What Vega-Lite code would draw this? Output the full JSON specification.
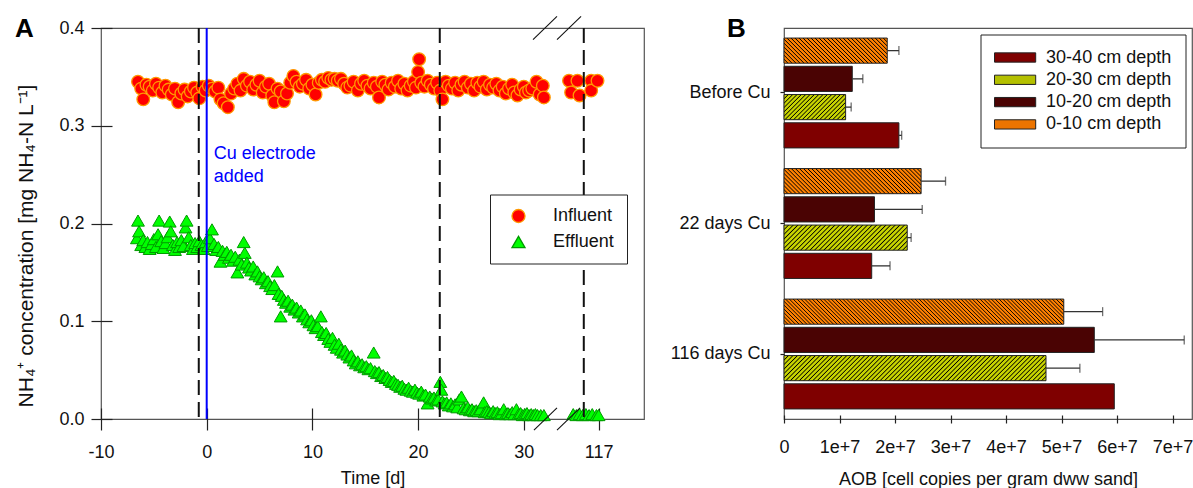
{
  "$schema": "https://vega.github.io/schema/vega-lite/v6.json",
  "background": "white",
  "padding": {"left": 14, "top": 15, "right": 0, "bottom": 0},
  "spacing": 140,
  "bounds": "flush",
  "resolve": {"scale": {"fill": "independent", "stroke": "independent", "shape": "independent"}, "legend": {"fill": "independent", "stroke": "independent", "shape": "independent"}},
  "datasets": {
    "influent": [
      {"day": -6.5, "value": 0.345}, {"day": -6.2, "value": 0.338}, {"day": -6.0, "value": 0.327}, {"day": -5.7, "value": 0.342},
      {"day": -5.4, "value": 0.340}, {"day": -5.1, "value": 0.336}, {"day": -4.8, "value": 0.343}, {"day": -4.5, "value": 0.339},
      {"day": -4.2, "value": 0.334}, {"day": -3.9, "value": 0.341}, {"day": -3.6, "value": 0.337}, {"day": -3.3, "value": 0.332},
      {"day": -3.0, "value": 0.338}, {"day": -2.7, "value": 0.324}, {"day": -2.4, "value": 0.333}, {"day": -2.1, "value": 0.337},
      {"day": -1.8, "value": 0.330}, {"day": -1.5, "value": 0.335}, {"day": -1.2, "value": 0.339}, {"day": -0.9, "value": 0.334},
      {"day": -0.7, "value": 0.328}, {"day": -0.4, "value": 0.340}, {"day": -0.1, "value": 0.336}, {"day": 0.2, "value": 0.341},
      {"day": 0.5, "value": 0.338}, {"day": 0.8, "value": 0.335}, {"day": 1.1, "value": 0.339}, {"day": 1.3, "value": 0.327},
      {"day": 1.6, "value": 0.323}, {"day": 2.0, "value": 0.319}, {"day": 2.3, "value": 0.333}, {"day": 2.6, "value": 0.338},
      {"day": 2.9, "value": 0.343}, {"day": 3.2, "value": 0.336}, {"day": 3.5, "value": 0.348}, {"day": 3.8, "value": 0.341},
      {"day": 4.1, "value": 0.345}, {"day": 4.4, "value": 0.337}, {"day": 4.7, "value": 0.342}, {"day": 5.0, "value": 0.346},
      {"day": 5.3, "value": 0.334}, {"day": 5.6, "value": 0.340}, {"day": 5.9, "value": 0.343}, {"day": 6.2, "value": 0.331},
      {"day": 6.4, "value": 0.324}, {"day": 6.7, "value": 0.338}, {"day": 7.0, "value": 0.335}, {"day": 7.3, "value": 0.325},
      {"day": 7.6, "value": 0.333}, {"day": 7.9, "value": 0.344}, {"day": 8.2, "value": 0.351}, {"day": 8.5, "value": 0.345},
      {"day": 8.8, "value": 0.340}, {"day": 9.1, "value": 0.343}, {"day": 9.4, "value": 0.347}, {"day": 9.7, "value": 0.338},
      {"day": 10.0, "value": 0.342}, {"day": 10.3, "value": 0.332}, {"day": 10.6, "value": 0.344}, {"day": 10.9, "value": 0.347},
      {"day": 11.2, "value": 0.345}, {"day": 11.5, "value": 0.349}, {"day": 11.8, "value": 0.347}, {"day": 12.1, "value": 0.348},
      {"day": 12.4, "value": 0.346}, {"day": 12.7, "value": 0.348}, {"day": 13.0, "value": 0.343}, {"day": 13.3, "value": 0.339},
      {"day": 13.6, "value": 0.341}, {"day": 13.9, "value": 0.345}, {"day": 14.3, "value": 0.336}, {"day": 14.6, "value": 0.343},
      {"day": 14.9, "value": 0.346}, {"day": 15.2, "value": 0.341}, {"day": 15.5, "value": 0.338}, {"day": 15.8, "value": 0.344},
      {"day": 16.1, "value": 0.340}, {"day": 16.3, "value": 0.329}, {"day": 16.6, "value": 0.345}, {"day": 16.9, "value": 0.342},
      {"day": 17.2, "value": 0.337}, {"day": 17.5, "value": 0.344}, {"day": 17.8, "value": 0.340}, {"day": 18.1, "value": 0.346},
      {"day": 18.4, "value": 0.338}, {"day": 18.7, "value": 0.343}, {"day": 19.0, "value": 0.336}, {"day": 19.3, "value": 0.341},
      {"day": 19.6, "value": 0.345}, {"day": 19.8, "value": 0.339}, {"day": 20.0, "value": 0.355}, {"day": 20.1, "value": 0.368},
      {"day": 20.3, "value": 0.344}, {"day": 20.6, "value": 0.340}, {"day": 20.9, "value": 0.346}, {"day": 21.2, "value": 0.342},
      {"day": 21.5, "value": 0.338}, {"day": 21.8, "value": 0.344}, {"day": 22.1, "value": 0.336}, {"day": 22.3, "value": 0.327},
      {"day": 22.6, "value": 0.345}, {"day": 22.9, "value": 0.341}, {"day": 23.2, "value": 0.338}, {"day": 23.5, "value": 0.344},
      {"day": 23.8, "value": 0.336}, {"day": 24.1, "value": 0.342}, {"day": 24.4, "value": 0.345}, {"day": 24.7, "value": 0.339},
      {"day": 25.0, "value": 0.343}, {"day": 25.3, "value": 0.336}, {"day": 25.6, "value": 0.344}, {"day": 25.9, "value": 0.340},
      {"day": 26.2, "value": 0.345}, {"day": 26.5, "value": 0.337}, {"day": 26.8, "value": 0.342}, {"day": 27.1, "value": 0.339},
      {"day": 27.4, "value": 0.343}, {"day": 27.7, "value": 0.336}, {"day": 28.0, "value": 0.340}, {"day": 28.3, "value": 0.333},
      {"day": 28.6, "value": 0.338}, {"day": 28.9, "value": 0.342}, {"day": 29.1, "value": 0.334}, {"day": 29.4, "value": 0.331},
      {"day": 29.7, "value": 0.337}, {"day": 30.0, "value": 0.340}, {"day": 30.2, "value": 0.334}, {"day": 30.5, "value": 0.336},
      {"day": 30.8, "value": 0.338}, {"day": 31.2, "value": 0.345}, {"day": 31.5, "value": 0.332}, {"day": 31.8, "value": 0.341},
      {"day": 31.9, "value": 0.329},
      {"day": 114.2, "value": 0.346}, {"day": 114.4, "value": 0.334}, {"day": 115.0, "value": 0.346}, {"day": 115.2, "value": 0.331},
      {"day": 116.3, "value": 0.346}, {"day": 116.3, "value": 0.336}, {"day": 116.9, "value": 0.346}
    ],
    "effluent": [
      {"day": -6.6, "value": 0.185}, {"day": -6.5, "value": 0.203}, {"day": -6.4, "value": 0.192}, {"day": -6.2, "value": 0.178},
      {"day": -6.0, "value": 0.183}, {"day": -5.8, "value": 0.176}, {"day": -5.6, "value": 0.181}, {"day": -5.4, "value": 0.174},
      {"day": -5.2, "value": 0.179}, {"day": -5.0, "value": 0.184}, {"day": -4.8, "value": 0.176}, {"day": -4.6, "value": 0.189},
      {"day": -4.5, "value": 0.203}, {"day": -4.3, "value": 0.182}, {"day": -4.1, "value": 0.175}, {"day": -3.9, "value": 0.180},
      {"day": -3.7, "value": 0.186}, {"day": -3.5, "value": 0.202}, {"day": -3.4, "value": 0.192}, {"day": -3.2, "value": 0.178},
      {"day": -3.0, "value": 0.173}, {"day": -2.8, "value": 0.181}, {"day": -2.6, "value": 0.176}, {"day": -2.4, "value": 0.183},
      {"day": -2.2, "value": 0.177}, {"day": -2.0, "value": 0.196}, {"day": -1.9, "value": 0.203}, {"day": -1.7, "value": 0.186},
      {"day": -1.5, "value": 0.178}, {"day": -1.3, "value": 0.174}, {"day": -1.1, "value": 0.180}, {"day": -0.9, "value": 0.176},
      {"day": -0.7, "value": 0.182}, {"day": -0.5, "value": 0.178}, {"day": -0.3, "value": 0.174}, {"day": -0.1, "value": 0.181},
      {"day": 0.1, "value": 0.177}, {"day": 0.3, "value": 0.185}, {"day": 0.5, "value": 0.194}, {"day": 0.7, "value": 0.179},
      {"day": 0.9, "value": 0.173}, {"day": 1.1, "value": 0.176}, {"day": 1.3, "value": 0.161}, {"day": 1.5, "value": 0.172},
      {"day": 1.7, "value": 0.168}, {"day": 1.9, "value": 0.171}, {"day": 2.1, "value": 0.165}, {"day": 2.3, "value": 0.168},
      {"day": 2.5, "value": 0.162}, {"day": 2.7, "value": 0.166}, {"day": 2.9, "value": 0.150}, {"day": 3.1, "value": 0.163},
      {"day": 3.3, "value": 0.158}, {"day": 3.5, "value": 0.181}, {"day": 3.6, "value": 0.170}, {"day": 3.8, "value": 0.160},
      {"day": 4.0, "value": 0.155}, {"day": 4.2, "value": 0.152}, {"day": 4.4, "value": 0.156}, {"day": 4.6, "value": 0.148},
      {"day": 4.8, "value": 0.151}, {"day": 5.0, "value": 0.146}, {"day": 5.2, "value": 0.143}, {"day": 5.4, "value": 0.145},
      {"day": 5.6, "value": 0.139}, {"day": 5.8, "value": 0.141}, {"day": 6.0, "value": 0.136}, {"day": 6.2, "value": 0.133},
      {"day": 6.4, "value": 0.137}, {"day": 6.7, "value": 0.151}, {"day": 6.8, "value": 0.128}, {"day": 7.0, "value": 0.105},
      {"day": 7.1, "value": 0.126}, {"day": 7.3, "value": 0.122}, {"day": 7.5, "value": 0.119}, {"day": 7.7, "value": 0.121},
      {"day": 7.9, "value": 0.115}, {"day": 8.1, "value": 0.117}, {"day": 8.3, "value": 0.112}, {"day": 8.5, "value": 0.114},
      {"day": 8.7, "value": 0.109}, {"day": 8.9, "value": 0.111}, {"day": 9.1, "value": 0.105}, {"day": 9.3, "value": 0.107},
      {"day": 9.5, "value": 0.102}, {"day": 9.7, "value": 0.099}, {"day": 9.9, "value": 0.101}, {"day": 10.1, "value": 0.096},
      {"day": 10.3, "value": 0.093}, {"day": 10.5, "value": 0.095}, {"day": 10.8, "value": 0.105}, {"day": 10.9, "value": 0.089},
      {"day": 11.1, "value": 0.086}, {"day": 11.3, "value": 0.088}, {"day": 11.5, "value": 0.082}, {"day": 11.7, "value": 0.079},
      {"day": 11.9, "value": 0.083}, {"day": 12.1, "value": 0.076}, {"day": 12.3, "value": 0.073}, {"day": 12.5, "value": 0.077},
      {"day": 12.7, "value": 0.071}, {"day": 12.9, "value": 0.068}, {"day": 13.1, "value": 0.070}, {"day": 13.3, "value": 0.066},
      {"day": 13.5, "value": 0.063}, {"day": 13.7, "value": 0.065}, {"day": 13.9, "value": 0.060}, {"day": 14.1, "value": 0.057},
      {"day": 14.3, "value": 0.059}, {"day": 14.5, "value": 0.055}, {"day": 14.7, "value": 0.056}, {"day": 14.9, "value": 0.053},
      {"day": 15.1, "value": 0.054}, {"day": 15.3, "value": 0.051}, {"day": 15.5, "value": 0.052}, {"day": 15.8, "value": 0.068},
      {"day": 15.9, "value": 0.049}, {"day": 16.1, "value": 0.047}, {"day": 16.3, "value": 0.048}, {"day": 16.5, "value": 0.044},
      {"day": 16.7, "value": 0.045}, {"day": 16.9, "value": 0.042}, {"day": 17.1, "value": 0.043}, {"day": 17.3, "value": 0.040},
      {"day": 17.5, "value": 0.038}, {"day": 17.7, "value": 0.039}, {"day": 17.9, "value": 0.036}, {"day": 18.1, "value": 0.035},
      {"day": 18.3, "value": 0.033}, {"day": 18.5, "value": 0.034}, {"day": 18.7, "value": 0.031}, {"day": 18.9, "value": 0.030},
      {"day": 19.1, "value": 0.032}, {"day": 19.3, "value": 0.029}, {"day": 19.5, "value": 0.028}, {"day": 19.7, "value": 0.030},
      {"day": 19.9, "value": 0.027}, {"day": 20.1, "value": 0.026}, {"day": 20.3, "value": 0.028}, {"day": 20.5, "value": 0.024},
      {"day": 20.7, "value": 0.025}, {"day": 20.9, "value": 0.016}, {"day": 21.1, "value": 0.023}, {"day": 21.3, "value": 0.021},
      {"day": 21.5, "value": 0.022}, {"day": 21.7, "value": 0.019}, {"day": 21.9, "value": 0.020}, {"day": 22.1, "value": 0.038},
      {"day": 22.2, "value": 0.030}, {"day": 22.3, "value": 0.018}, {"day": 22.5, "value": 0.016}, {"day": 22.7, "value": 0.017},
      {"day": 22.9, "value": 0.014}, {"day": 23.1, "value": 0.016}, {"day": 23.3, "value": 0.013}, {"day": 23.5, "value": 0.015},
      {"day": 23.7, "value": 0.012}, {"day": 23.9, "value": 0.020}, {"day": 24.1, "value": 0.023}, {"day": 24.3, "value": 0.011},
      {"day": 24.5, "value": 0.010}, {"day": 24.7, "value": 0.012}, {"day": 24.9, "value": 0.009}, {"day": 25.1, "value": 0.010},
      {"day": 25.3, "value": 0.008}, {"day": 25.5, "value": 0.009}, {"day": 25.7, "value": 0.008}, {"day": 25.9, "value": 0.010},
      {"day": 26.2, "value": 0.017}, {"day": 26.3, "value": 0.007}, {"day": 26.5, "value": 0.008}, {"day": 26.7, "value": 0.007},
      {"day": 26.9, "value": 0.006}, {"day": 27.1, "value": 0.008}, {"day": 27.3, "value": 0.006}, {"day": 27.5, "value": 0.007},
      {"day": 27.7, "value": 0.005}, {"day": 27.9, "value": 0.006}, {"day": 28.1, "value": 0.010}, {"day": 28.3, "value": 0.005},
      {"day": 28.5, "value": 0.006}, {"day": 28.7, "value": 0.005}, {"day": 28.9, "value": 0.007}, {"day": 29.1, "value": 0.005},
      {"day": 29.3, "value": 0.010}, {"day": 29.5, "value": 0.005}, {"day": 29.7, "value": 0.006}, {"day": 29.9, "value": 0.004},
      {"day": 30.1, "value": 0.005}, {"day": 30.3, "value": 0.006}, {"day": 30.5, "value": 0.004}, {"day": 30.7, "value": 0.005},
      {"day": 30.9, "value": 0.004}, {"day": 31.1, "value": 0.005}, {"day": 31.3, "value": 0.004}, {"day": 31.6, "value": 0.004},
      {"day": 31.9, "value": 0.004},
      {"day": 114.6, "value": 0.005}, {"day": 114.9, "value": 0.004}, {"day": 115.2, "value": 0.005}, {"day": 115.5, "value": 0.004},
      {"day": 115.8, "value": 0.005}, {"day": 116.1, "value": 0.004}, {"day": 116.4, "value": 0.005}, {"day": 116.8, "value": 0.004},
      {"day": 117.0, "value": 0.004}
    ],
    "aob": [
      {"time": "Before Cu", "depth": "0-10 cm depth", "value": 18600000, "hi": 20700000},
      {"time": "Before Cu", "depth": "10-20 cm depth", "value": 12300000, "hi": 14200000},
      {"time": "Before Cu", "depth": "20-30 cm depth", "value": 11100000, "hi": 12100000},
      {"time": "Before Cu", "depth": "30-40 cm depth", "value": 20700000, "hi": 21200000},
      {"time": "22 days Cu", "depth": "0-10 cm depth", "value": 24700000, "hi": 29100000},
      {"time": "22 days Cu", "depth": "10-20 cm depth", "value": 16300000, "hi": 24900000},
      {"time": "22 days Cu", "depth": "20-30 cm depth", "value": 22200000, "hi": 22900000},
      {"time": "22 days Cu", "depth": "30-40 cm depth", "value": 15800000, "hi": 19100000},
      {"time": "116 days Cu", "depth": "0-10 cm depth", "value": 50400000, "hi": 57400000},
      {"time": "116 days Cu", "depth": "10-20 cm depth", "value": 55900000, "hi": 72100000},
      {"time": "116 days Cu", "depth": "20-30 cm depth", "value": 47200000, "hi": 53300000},
      {"time": "116 days Cu", "depth": "30-40 cm depth", "value": 59500000, "hi": null}
    ]
  },
  "hconcat": [
    {
      "width": 543,
      "height": 391,
      "title": {"text": "A", "anchor": "start", "frame": "group", "fontSize": 26, "fontWeight": "bold", "font": "Liberation Sans", "baseline": "alphabetic", "offset": 0, "dx": -86, "dy": 47, "color": "#000"},
      "layer": [
        {
          "data": {"name": "influent"},
          "mark": {"type": "point", "filled": true, "size": 160, "strokeWidth": 1.3, "opacity": 1},
          "encoding": {
            "x": {"field": "day", "type": "quantitative",
              "scale": {"domain": [-10, 32.1, 114.2, 121.3], "range": [0, 445, 468, 543], "nice": false, "zero": false},
              "axis": {"values": [-10, 0, 10, 20, 30, 117], "labelExpr": "replace(datum.label, '−', '-')", "domain": false, "offset": -11, "tickSize": 22, "labelPadding": 13, "title": "Time [d]", "titlePadding": 8}},
            "y": {"field": "value", "type": "quantitative",
              "scale": {"domain": [0, 0.4], "nice": false, "zero": false},
              "axis": {"values": [0, 0.1, 0.2, 0.3, 0.4], "format": ".1f", "domain": false, "offset": -11, "tickSize": 21, "labelPadding": 7, "title": "NH₄⁺ concentration [mg NH₄-N L⁻¹]", "titleFontSize": 21, "titleX": -80, "titleY": 217.5, "titleBaseline": "alphabetic", "titleAlign": "center", "titleAngle": -90}},
            "shape": {"datum": "Influent", "type": "nominal", "scale": {"domain": ["Influent", "Effluent"], "range": ["circle", "triangle-up"]},
              "legend": {"orient": "none", "legendX": 389, "legendY": 166.5, "title": null, "padding": 12.5, "symbolOffset": 7, "labelOffset": 25.5, "rowPadding": 7, "strokeColor": "#222", "fillColor": "#fff", "labelFontSize": 18, "symbolSize": 170, "symbolStrokeWidth": 1.3}},
            "fill": {"datum": "Influent", "type": "nominal", "scale": {"domain": ["Influent", "Effluent"], "range": ["#ff0000", "#00ff00"]},
              "legend": {"orient": "none", "legendX": 389, "legendY": 166.5, "title": null, "padding": 12.5, "symbolOffset": 7, "labelOffset": 25.5, "rowPadding": 7, "strokeColor": "#222", "fillColor": "#fff", "labelFontSize": 18, "symbolSize": 170, "symbolStrokeWidth": 1.3}},
            "stroke": {"datum": "Influent", "type": "nominal", "scale": {"domain": ["Influent", "Effluent"], "range": ["#ff9900", "#009900"]},
              "legend": {"orient": "none", "legendX": 389, "legendY": 166.5, "title": null, "padding": 12.5, "symbolOffset": 7, "labelOffset": 25.5, "rowPadding": 7, "strokeColor": "#222", "fillColor": "#fff", "labelFontSize": 18, "symbolSize": 170, "symbolStrokeWidth": 1.3}}
          }
        },
        {
          "data": {"name": "effluent"},
          "mark": {"type": "point", "filled": true, "size": 165, "strokeWidth": 1, "opacity": 1},
          "encoding": {
            "x": {"field": "day", "type": "quantitative"},
            "y": {"field": "value", "type": "quantitative"},
            "shape": {"datum": "Effluent", "type": "nominal"},
            "fill": {"datum": "Effluent", "type": "nominal"},
            "stroke": {"datum": "Effluent", "type": "nominal"}
          }
        },
        {
          "data": {"values": [{"day": -0.75}, {"day": 22.05}, {"day": 115.6}]},
          "mark": {"type": "rule", "strokeDash": [15, 7], "strokeWidth": 2, "color": "#111"},
          "encoding": {"x": {"field": "day", "type": "quantitative"}}
        },
        {
          "data": {"values": [{"day": 0}]},
          "mark": {"type": "rule", "strokeWidth": 2, "color": "#0000ff"},
          "encoding": {"x": {"field": "day", "type": "quantitative"}}
        },
        {
          "data": {"values": [{"day": 0, "value": 0.28}]},
          "mark": {"type": "text", "text": ["Cu electrode", "added"], "align": "left", "baseline": "top", "color": "#0000ff", "fontSize": 18, "lineHeight": 23, "dx": 7, "font": "Liberation Sans"},
          "encoding": {"x": {"field": "day", "type": "quantitative"}, "y": {"field": "value", "type": "quantitative"}}
        },
        {
          "data": {"values": [
            {"day_from": 30.96, "day_to": 71.37, "level_from": -0.0113, "level_to": 0.0113},
            {"day_from": 71.37, "day_to": 115.25, "level_from": -0.0113, "level_to": 0.0113},
            {"day_from": 30.87, "day_to": 71.37, "level_from": 0.388, "level_to": 0.412},
            {"day_from": 71.37, "day_to": 115.34, "level_from": 0.388, "level_to": 0.412}
          ]},
          "mark": {"type": "rule", "strokeWidth": 1.1, "color": "#111"},
          "encoding": {
            "x": {"field": "day_from", "type": "quantitative"}, "x2": {"field": "day_to"},
            "y": {"field": "level_from", "type": "quantitative"}, "y2": {"field": "level_to"}
          }
        }
      ]
    },
    {
      "width": 408,
      "height": 391,
      "title": {"text": "B", "anchor": "start", "frame": "group", "fontSize": 26, "fontWeight": "bold", "font": "Liberation Sans", "baseline": "alphabetic", "offset": 0, "dx": -57, "dy": 35, "color": "#000"},
      "data": {"name": "aob"},
      "layer": [
        {
          "mark": {"type": "bar", "stroke": "#222", "strokeWidth": 1},
          "encoding": {
            "y": {"field": "time", "type": "nominal", "sort": ["Before Cu", "22 days Cu", "116 days Cu"],
              "scale": {"paddingInner": 0.158, "paddingOuter": 0.077},
              "axis": {"title": null, "tickSize": 4, "labelPadding": 10, "domain": false}},
            "yOffset": {"field": "depth", "type": "nominal", "sort": ["0-10 cm depth", "10-20 cm depth", "20-30 cm depth", "30-40 cm depth"],
              "scale": {"paddingInner": 0.11, "paddingOuter": 0}},
            "x": {"field": "value", "type": "quantitative", "scale": {"domain": [0, 73500000], "nice": false, "zero": false},
              "axis": {"values": [0, 10000000, 20000000, 30000000, 40000000, 50000000, 60000000, 70000000],
                "labelExpr": "datum.value == 0 ? '0' : format(datum.value, '.0e')",
                "offset": -4, "tickSize": 8, "domain": false, "labelPadding": 15,
                "title": "AOB [cell copies per gram dww sand]", "titlePadding": 14}},
            "fill": {
              "condition": [
                {"test": "datum.depth == '0-10 cm depth' && datum.time == 'Before Cu'", "value": {"gradient": "linear", "x1": 0, "y1": 1, "x2": 1.1738, "y2": 0.7145, "stops": [
{"offset":0,"color":"#000"},{"offset":0.0078,"color":"#ff8000"},{"offset":0.0234,"color":"#ff8000"},
{"offset":0.0313,"color":"#000"},{"offset":0.0391,"color":"#ff8000"},{"offset":0.0547,"color":"#ff8000"},
{"offset":0.0625,"color":"#000"},{"offset":0.0703,"color":"#ff8000"},{"offset":0.0859,"color":"#ff8000"},
{"offset":0.0938,"color":"#000"},{"offset":0.1016,"color":"#ff8000"},{"offset":0.1172,"color":"#ff8000"},
{"offset":0.125,"color":"#000"},{"offset":0.1328,"color":"#ff8000"},{"offset":0.1484,"color":"#ff8000"},
{"offset":0.1563,"color":"#000"},{"offset":0.1641,"color":"#ff8000"},{"offset":0.1797,"color":"#ff8000"},
{"offset":0.1875,"color":"#000"},{"offset":0.1953,"color":"#ff8000"},{"offset":0.2109,"color":"#ff8000"},
{"offset":0.2188,"color":"#000"},{"offset":0.2266,"color":"#ff8000"},{"offset":0.2422,"color":"#ff8000"},
{"offset":0.25,"color":"#000"},{"offset":0.2578,"color":"#ff8000"},{"offset":0.2734,"color":"#ff8000"},
{"offset":0.2813,"color":"#000"},{"offset":0.2891,"color":"#ff8000"},{"offset":0.3047,"color":"#ff8000"},
{"offset":0.3125,"color":"#000"},{"offset":0.3203,"color":"#ff8000"},{"offset":0.3359,"color":"#ff8000"},
{"offset":0.3438,"color":"#000"},{"offset":0.3516,"color":"#ff8000"},{"offset":0.3672,"color":"#ff8000"},
{"offset":0.375,"color":"#000"},{"offset":0.3828,"color":"#ff8000"},{"offset":0.3984,"color":"#ff8000"},
{"offset":0.4063,"color":"#000"},{"offset":0.4141,"color":"#ff8000"},{"offset":0.4297,"color":"#ff8000"},
{"offset":0.4375,"color":"#000"},{"offset":0.4453,"color":"#ff8000"},{"offset":0.4609,"color":"#ff8000"},
{"offset":0.4688,"color":"#000"},{"offset":0.4766,"color":"#ff8000"},{"offset":0.4922,"color":"#ff8000"},
{"offset":0.5,"color":"#000"},{"offset":0.5078,"color":"#ff8000"},{"offset":0.5234,"color":"#ff8000"},
{"offset":0.5313,"color":"#000"},{"offset":0.5391,"color":"#ff8000"},{"offset":0.5547,"color":"#ff8000"},
{"offset":0.5625,"color":"#000"},{"offset":0.5703,"color":"#ff8000"},{"offset":0.5859,"color":"#ff8000"},
{"offset":0.5938,"color":"#000"},{"offset":0.6016,"color":"#ff8000"},{"offset":0.6172,"color":"#ff8000"},
{"offset":0.625,"color":"#000"},{"offset":0.6328,"color":"#ff8000"},{"offset":0.6484,"color":"#ff8000"},
{"offset":0.6563,"color":"#000"},{"offset":0.6641,"color":"#ff8000"},{"offset":0.6797,"color":"#ff8000"},
{"offset":0.6875,"color":"#000"},{"offset":0.6953,"color":"#ff8000"},{"offset":0.7109,"color":"#ff8000"},
{"offset":0.7188,"color":"#000"},{"offset":0.7266,"color":"#ff8000"},{"offset":0.7422,"color":"#ff8000"},
{"offset":0.75,"color":"#000"},{"offset":0.7578,"color":"#ff8000"},{"offset":0.7734,"color":"#ff8000"},
{"offset":0.7813,"color":"#000"},{"offset":0.7891,"color":"#ff8000"},{"offset":0.8047,"color":"#ff8000"},
{"offset":0.8125,"color":"#000"},{"offset":0.8203,"color":"#ff8000"},{"offset":0.8359,"color":"#ff8000"},
{"offset":0.8438,"color":"#000"},{"offset":0.8516,"color":"#ff8000"},{"offset":0.8672,"color":"#ff8000"},
{"offset":0.875,"color":"#000"},{"offset":0.8828,"color":"#ff8000"},{"offset":0.8984,"color":"#ff8000"},
{"offset":0.9063,"color":"#000"},{"offset":0.9141,"color":"#ff8000"},{"offset":0.9297,"color":"#ff8000"},
{"offset":0.9375,"color":"#000"},{"offset":0.9453,"color":"#ff8000"},{"offset":0.9609,"color":"#ff8000"},
{"offset":0.9688,"color":"#000"},{"offset":0.9766,"color":"#ff8000"},{"offset":0.9922,"color":"#ff8000"},
{"offset":1,"color":"#000"}]}},
                {"test": "datum.depth == '0-10 cm depth' && datum.time == '22 days Cu'", "value": {"gradient": "linear", "x1": 0, "y1": 1, "x2": 1.1447, "y2": 0.7904, "stops": [
{"offset":0,"color":"#000"},{"offset":0.0063,"color":"#ff8000"},{"offset":0.0188,"color":"#ff8000"},
{"offset":0.025,"color":"#000"},{"offset":0.0313,"color":"#ff8000"},{"offset":0.0438,"color":"#ff8000"},
{"offset":0.05,"color":"#000"},{"offset":0.0563,"color":"#ff8000"},{"offset":0.0688,"color":"#ff8000"},
{"offset":0.075,"color":"#000"},{"offset":0.0813,"color":"#ff8000"},{"offset":0.0938,"color":"#ff8000"},
{"offset":0.1,"color":"#000"},{"offset":0.1063,"color":"#ff8000"},{"offset":0.1188,"color":"#ff8000"},
{"offset":0.125,"color":"#000"},{"offset":0.1313,"color":"#ff8000"},{"offset":0.1438,"color":"#ff8000"},
{"offset":0.15,"color":"#000"},{"offset":0.1563,"color":"#ff8000"},{"offset":0.1688,"color":"#ff8000"},
{"offset":0.175,"color":"#000"},{"offset":0.1813,"color":"#ff8000"},{"offset":0.1938,"color":"#ff8000"},
{"offset":0.2,"color":"#000"},{"offset":0.2063,"color":"#ff8000"},{"offset":0.2188,"color":"#ff8000"},
{"offset":0.225,"color":"#000"},{"offset":0.2313,"color":"#ff8000"},{"offset":0.2438,"color":"#ff8000"},
{"offset":0.25,"color":"#000"},{"offset":0.2563,"color":"#ff8000"},{"offset":0.2688,"color":"#ff8000"},
{"offset":0.275,"color":"#000"},{"offset":0.2813,"color":"#ff8000"},{"offset":0.2938,"color":"#ff8000"},
{"offset":0.3,"color":"#000"},{"offset":0.3063,"color":"#ff8000"},{"offset":0.3188,"color":"#ff8000"},
{"offset":0.325,"color":"#000"},{"offset":0.3313,"color":"#ff8000"},{"offset":0.3438,"color":"#ff8000"},
{"offset":0.35,"color":"#000"},{"offset":0.3563,"color":"#ff8000"},{"offset":0.3688,"color":"#ff8000"},
{"offset":0.375,"color":"#000"},{"offset":0.3813,"color":"#ff8000"},{"offset":0.3938,"color":"#ff8000"},
{"offset":0.4,"color":"#000"},{"offset":0.4063,"color":"#ff8000"},{"offset":0.4188,"color":"#ff8000"},
{"offset":0.425,"color":"#000"},{"offset":0.4313,"color":"#ff8000"},{"offset":0.4438,"color":"#ff8000"},
{"offset":0.45,"color":"#000"},{"offset":0.4563,"color":"#ff8000"},{"offset":0.4688,"color":"#ff8000"},
{"offset":0.475,"color":"#000"},{"offset":0.4813,"color":"#ff8000"},{"offset":0.4938,"color":"#ff8000"},
{"offset":0.5,"color":"#000"},{"offset":0.5063,"color":"#ff8000"},{"offset":0.5188,"color":"#ff8000"},
{"offset":0.525,"color":"#000"},{"offset":0.5313,"color":"#ff8000"},{"offset":0.5438,"color":"#ff8000"},
{"offset":0.55,"color":"#000"},{"offset":0.5563,"color":"#ff8000"},{"offset":0.5688,"color":"#ff8000"},
{"offset":0.575,"color":"#000"},{"offset":0.5813,"color":"#ff8000"},{"offset":0.5938,"color":"#ff8000"},
{"offset":0.6,"color":"#000"},{"offset":0.6063,"color":"#ff8000"},{"offset":0.6188,"color":"#ff8000"},
{"offset":0.625,"color":"#000"},{"offset":0.6313,"color":"#ff8000"},{"offset":0.6438,"color":"#ff8000"},
{"offset":0.65,"color":"#000"},{"offset":0.6563,"color":"#ff8000"},{"offset":0.6688,"color":"#ff8000"},
{"offset":0.675,"color":"#000"},{"offset":0.6813,"color":"#ff8000"},{"offset":0.6938,"color":"#ff8000"},
{"offset":0.7,"color":"#000"},{"offset":0.7063,"color":"#ff8000"},{"offset":0.7188,"color":"#ff8000"},
{"offset":0.725,"color":"#000"},{"offset":0.7313,"color":"#ff8000"},{"offset":0.7438,"color":"#ff8000"},
{"offset":0.75,"color":"#000"},{"offset":0.7563,"color":"#ff8000"},{"offset":0.7688,"color":"#ff8000"},
{"offset":0.775,"color":"#000"},{"offset":0.7813,"color":"#ff8000"},{"offset":0.7938,"color":"#ff8000"},
{"offset":0.8,"color":"#000"},{"offset":0.8063,"color":"#ff8000"},{"offset":0.8188,"color":"#ff8000"},
{"offset":0.825,"color":"#000"},{"offset":0.8313,"color":"#ff8000"},{"offset":0.8438,"color":"#ff8000"},
{"offset":0.85,"color":"#000"},{"offset":0.8563,"color":"#ff8000"},{"offset":0.8688,"color":"#ff8000"},
{"offset":0.875,"color":"#000"},{"offset":0.8813,"color":"#ff8000"},{"offset":0.8938,"color":"#ff8000"},
{"offset":0.9,"color":"#000"},{"offset":0.9063,"color":"#ff8000"},{"offset":0.9188,"color":"#ff8000"},
{"offset":0.925,"color":"#000"},{"offset":0.9313,"color":"#ff8000"},{"offset":0.9438,"color":"#ff8000"},
{"offset":0.95,"color":"#000"},{"offset":0.9563,"color":"#ff8000"},{"offset":0.9688,"color":"#ff8000"},
{"offset":0.975,"color":"#000"},{"offset":0.9813,"color":"#ff8000"},{"offset":0.9938,"color":"#ff8000"},
{"offset":1,"color":"#000"}]}},
                {"test": "datum.depth == '0-10 cm depth' && datum.time == '116 days Cu'", "value": {"gradient": "linear", "x1": 0, "y1": 1, "x2": 1.081, "y2": 0.903, "stops": [
{"offset":0,"color":"#000"},{"offset":0.0031,"color":"#ff8000"},{"offset":0.0094,"color":"#ff8000"},
{"offset":0.0125,"color":"#000"},{"offset":0.0156,"color":"#ff8000"},{"offset":0.0219,"color":"#ff8000"},
{"offset":0.025,"color":"#000"},{"offset":0.0281,"color":"#ff8000"},{"offset":0.0344,"color":"#ff8000"},
{"offset":0.0375,"color":"#000"},{"offset":0.0406,"color":"#ff8000"},{"offset":0.0469,"color":"#ff8000"},
{"offset":0.05,"color":"#000"},{"offset":0.0531,"color":"#ff8000"},{"offset":0.0594,"color":"#ff8000"},
{"offset":0.0625,"color":"#000"},{"offset":0.0656,"color":"#ff8000"},{"offset":0.0719,"color":"#ff8000"},
{"offset":0.075,"color":"#000"},{"offset":0.0781,"color":"#ff8000"},{"offset":0.0844,"color":"#ff8000"},
{"offset":0.0875,"color":"#000"},{"offset":0.0906,"color":"#ff8000"},{"offset":0.0969,"color":"#ff8000"},
{"offset":0.1,"color":"#000"},{"offset":0.1031,"color":"#ff8000"},{"offset":0.1094,"color":"#ff8000"},
{"offset":0.1125,"color":"#000"},{"offset":0.1156,"color":"#ff8000"},{"offset":0.1219,"color":"#ff8000"},
{"offset":0.125,"color":"#000"},{"offset":0.1281,"color":"#ff8000"},{"offset":0.1344,"color":"#ff8000"},
{"offset":0.1375,"color":"#000"},{"offset":0.1406,"color":"#ff8000"},{"offset":0.1469,"color":"#ff8000"},
{"offset":0.15,"color":"#000"},{"offset":0.1531,"color":"#ff8000"},{"offset":0.1594,"color":"#ff8000"},
{"offset":0.1625,"color":"#000"},{"offset":0.1656,"color":"#ff8000"},{"offset":0.1719,"color":"#ff8000"},
{"offset":0.175,"color":"#000"},{"offset":0.1781,"color":"#ff8000"},{"offset":0.1844,"color":"#ff8000"},
{"offset":0.1875,"color":"#000"},{"offset":0.1906,"color":"#ff8000"},{"offset":0.1969,"color":"#ff8000"},
{"offset":0.2,"color":"#000"},{"offset":0.2031,"color":"#ff8000"},{"offset":0.2094,"color":"#ff8000"},
{"offset":0.2125,"color":"#000"},{"offset":0.2156,"color":"#ff8000"},{"offset":0.2219,"color":"#ff8000"},
{"offset":0.225,"color":"#000"},{"offset":0.2281,"color":"#ff8000"},{"offset":0.2344,"color":"#ff8000"},
{"offset":0.2375,"color":"#000"},{"offset":0.2406,"color":"#ff8000"},{"offset":0.2469,"color":"#ff8000"},
{"offset":0.25,"color":"#000"},{"offset":0.2531,"color":"#ff8000"},{"offset":0.2594,"color":"#ff8000"},
{"offset":0.2625,"color":"#000"},{"offset":0.2656,"color":"#ff8000"},{"offset":0.2719,"color":"#ff8000"},
{"offset":0.275,"color":"#000"},{"offset":0.2781,"color":"#ff8000"},{"offset":0.2844,"color":"#ff8000"},
{"offset":0.2875,"color":"#000"},{"offset":0.2906,"color":"#ff8000"},{"offset":0.2969,"color":"#ff8000"},
{"offset":0.3,"color":"#000"},{"offset":0.3031,"color":"#ff8000"},{"offset":0.3094,"color":"#ff8000"},
{"offset":0.3125,"color":"#000"},{"offset":0.3156,"color":"#ff8000"},{"offset":0.3219,"color":"#ff8000"},
{"offset":0.325,"color":"#000"},{"offset":0.3281,"color":"#ff8000"},{"offset":0.3344,"color":"#ff8000"},
{"offset":0.3375,"color":"#000"},{"offset":0.3406,"color":"#ff8000"},{"offset":0.3469,"color":"#ff8000"},
{"offset":0.35,"color":"#000"},{"offset":0.3531,"color":"#ff8000"},{"offset":0.3594,"color":"#ff8000"},
{"offset":0.3625,"color":"#000"},{"offset":0.3656,"color":"#ff8000"},{"offset":0.3719,"color":"#ff8000"},
{"offset":0.375,"color":"#000"},{"offset":0.3781,"color":"#ff8000"},{"offset":0.3844,"color":"#ff8000"},
{"offset":0.3875,"color":"#000"},{"offset":0.3906,"color":"#ff8000"},{"offset":0.3969,"color":"#ff8000"},
{"offset":0.4,"color":"#000"},{"offset":0.4031,"color":"#ff8000"},{"offset":0.4094,"color":"#ff8000"},
{"offset":0.4125,"color":"#000"},{"offset":0.4156,"color":"#ff8000"},{"offset":0.4219,"color":"#ff8000"},
{"offset":0.425,"color":"#000"},{"offset":0.4281,"color":"#ff8000"},{"offset":0.4344,"color":"#ff8000"},
{"offset":0.4375,"color":"#000"},{"offset":0.4406,"color":"#ff8000"},{"offset":0.4469,"color":"#ff8000"},
{"offset":0.45,"color":"#000"},{"offset":0.4531,"color":"#ff8000"},{"offset":0.4594,"color":"#ff8000"},
{"offset":0.4625,"color":"#000"},{"offset":0.4656,"color":"#ff8000"},{"offset":0.4719,"color":"#ff8000"},
{"offset":0.475,"color":"#000"},{"offset":0.4781,"color":"#ff8000"},{"offset":0.4844,"color":"#ff8000"},
{"offset":0.4875,"color":"#000"},{"offset":0.4906,"color":"#ff8000"},{"offset":0.4969,"color":"#ff8000"},
{"offset":0.5,"color":"#000"},{"offset":0.5031,"color":"#ff8000"},{"offset":0.5094,"color":"#ff8000"},
{"offset":0.5125,"color":"#000"},{"offset":0.5156,"color":"#ff8000"},{"offset":0.5219,"color":"#ff8000"},
{"offset":0.525,"color":"#000"},{"offset":0.5281,"color":"#ff8000"},{"offset":0.5344,"color":"#ff8000"},
{"offset":0.5375,"color":"#000"},{"offset":0.5406,"color":"#ff8000"},{"offset":0.5469,"color":"#ff8000"},
{"offset":0.55,"color":"#000"},{"offset":0.5531,"color":"#ff8000"},{"offset":0.5594,"color":"#ff8000"},
{"offset":0.5625,"color":"#000"},{"offset":0.5656,"color":"#ff8000"},{"offset":0.5719,"color":"#ff8000"},
{"offset":0.575,"color":"#000"},{"offset":0.5781,"color":"#ff8000"},{"offset":0.5844,"color":"#ff8000"},
{"offset":0.5875,"color":"#000"},{"offset":0.5906,"color":"#ff8000"},{"offset":0.5969,"color":"#ff8000"},
{"offset":0.6,"color":"#000"},{"offset":0.6031,"color":"#ff8000"},{"offset":0.6094,"color":"#ff8000"},
{"offset":0.6125,"color":"#000"},{"offset":0.6156,"color":"#ff8000"},{"offset":0.6219,"color":"#ff8000"},
{"offset":0.625,"color":"#000"},{"offset":0.6281,"color":"#ff8000"},{"offset":0.6344,"color":"#ff8000"},
{"offset":0.6375,"color":"#000"},{"offset":0.6406,"color":"#ff8000"},{"offset":0.6469,"color":"#ff8000"},
{"offset":0.65,"color":"#000"},{"offset":0.6531,"color":"#ff8000"},{"offset":0.6594,"color":"#ff8000"},
{"offset":0.6625,"color":"#000"},{"offset":0.6656,"color":"#ff8000"},{"offset":0.6719,"color":"#ff8000"},
{"offset":0.675,"color":"#000"},{"offset":0.6781,"color":"#ff8000"},{"offset":0.6844,"color":"#ff8000"},
{"offset":0.6875,"color":"#000"},{"offset":0.6906,"color":"#ff8000"},{"offset":0.6969,"color":"#ff8000"},
{"offset":0.7,"color":"#000"},{"offset":0.7031,"color":"#ff8000"},{"offset":0.7094,"color":"#ff8000"},
{"offset":0.7125,"color":"#000"},{"offset":0.7156,"color":"#ff8000"},{"offset":0.7219,"color":"#ff8000"},
{"offset":0.725,"color":"#000"},{"offset":0.7281,"color":"#ff8000"},{"offset":0.7344,"color":"#ff8000"},
{"offset":0.7375,"color":"#000"},{"offset":0.7406,"color":"#ff8000"},{"offset":0.7469,"color":"#ff8000"},
{"offset":0.75,"color":"#000"},{"offset":0.7531,"color":"#ff8000"},{"offset":0.7594,"color":"#ff8000"},
{"offset":0.7625,"color":"#000"},{"offset":0.7656,"color":"#ff8000"},{"offset":0.7719,"color":"#ff8000"},
{"offset":0.775,"color":"#000"},{"offset":0.7781,"color":"#ff8000"},{"offset":0.7844,"color":"#ff8000"},
{"offset":0.7875,"color":"#000"},{"offset":0.7906,"color":"#ff8000"},{"offset":0.7969,"color":"#ff8000"},
{"offset":0.8,"color":"#000"},{"offset":0.8031,"color":"#ff8000"},{"offset":0.8094,"color":"#ff8000"},
{"offset":0.8125,"color":"#000"},{"offset":0.8156,"color":"#ff8000"},{"offset":0.8219,"color":"#ff8000"},
{"offset":0.825,"color":"#000"},{"offset":0.8281,"color":"#ff8000"},{"offset":0.8344,"color":"#ff8000"},
{"offset":0.8375,"color":"#000"},{"offset":0.8406,"color":"#ff8000"},{"offset":0.8469,"color":"#ff8000"},
{"offset":0.85,"color":"#000"},{"offset":0.8531,"color":"#ff8000"},{"offset":0.8594,"color":"#ff8000"},
{"offset":0.8625,"color":"#000"},{"offset":0.8656,"color":"#ff8000"},{"offset":0.8719,"color":"#ff8000"},
{"offset":0.875,"color":"#000"},{"offset":0.8781,"color":"#ff8000"},{"offset":0.8844,"color":"#ff8000"},
{"offset":0.8875,"color":"#000"},{"offset":0.8906,"color":"#ff8000"},{"offset":0.8969,"color":"#ff8000"},
{"offset":0.9,"color":"#000"},{"offset":0.9031,"color":"#ff8000"},{"offset":0.9094,"color":"#ff8000"},
{"offset":0.9125,"color":"#000"},{"offset":0.9156,"color":"#ff8000"},{"offset":0.9219,"color":"#ff8000"},
{"offset":0.925,"color":"#000"},{"offset":0.9281,"color":"#ff8000"},{"offset":0.9344,"color":"#ff8000"},
{"offset":0.9375,"color":"#000"},{"offset":0.9406,"color":"#ff8000"},{"offset":0.9469,"color":"#ff8000"},
{"offset":0.95,"color":"#000"},{"offset":0.9531,"color":"#ff8000"},{"offset":0.9594,"color":"#ff8000"},
{"offset":0.9625,"color":"#000"},{"offset":0.9656,"color":"#ff8000"},{"offset":0.9719,"color":"#ff8000"},
{"offset":0.975,"color":"#000"},{"offset":0.9781,"color":"#ff8000"},{"offset":0.9844,"color":"#ff8000"},
{"offset":0.9875,"color":"#000"},{"offset":0.9906,"color":"#ff8000"},{"offset":0.9969,"color":"#ff8000"},
{"offset":1,"color":"#000"}]}},
                {"test": "datum.depth == '20-30 cm depth' && datum.time == 'Before Cu'", "value": {"gradient": "linear", "x1": 0, "y1": 0, "x2": 1.2071, "y2": 0.4919, "stops": [
{"offset":0,"color":"#000"},{"offset":0.0125,"color":"#c8d400"},{"offset":0.0375,"color":"#c8d400"},
{"offset":0.05,"color":"#000"},{"offset":0.0625,"color":"#c8d400"},{"offset":0.0875,"color":"#c8d400"},
{"offset":0.1,"color":"#000"},{"offset":0.1125,"color":"#c8d400"},{"offset":0.1375,"color":"#c8d400"},
{"offset":0.15,"color":"#000"},{"offset":0.1625,"color":"#c8d400"},{"offset":0.1875,"color":"#c8d400"},
{"offset":0.2,"color":"#000"},{"offset":0.2125,"color":"#c8d400"},{"offset":0.2375,"color":"#c8d400"},
{"offset":0.25,"color":"#000"},{"offset":0.2625,"color":"#c8d400"},{"offset":0.2875,"color":"#c8d400"},
{"offset":0.3,"color":"#000"},{"offset":0.3125,"color":"#c8d400"},{"offset":0.3375,"color":"#c8d400"},
{"offset":0.35,"color":"#000"},{"offset":0.3625,"color":"#c8d400"},{"offset":0.3875,"color":"#c8d400"},
{"offset":0.4,"color":"#000"},{"offset":0.4125,"color":"#c8d400"},{"offset":0.4375,"color":"#c8d400"},
{"offset":0.45,"color":"#000"},{"offset":0.4625,"color":"#c8d400"},{"offset":0.4875,"color":"#c8d400"},
{"offset":0.5,"color":"#000"},{"offset":0.5125,"color":"#c8d400"},{"offset":0.5375,"color":"#c8d400"},
{"offset":0.55,"color":"#000"},{"offset":0.5625,"color":"#c8d400"},{"offset":0.5875,"color":"#c8d400"},
{"offset":0.6,"color":"#000"},{"offset":0.6125,"color":"#c8d400"},{"offset":0.6375,"color":"#c8d400"},
{"offset":0.65,"color":"#000"},{"offset":0.6625,"color":"#c8d400"},{"offset":0.6875,"color":"#c8d400"},
{"offset":0.7,"color":"#000"},{"offset":0.7125,"color":"#c8d400"},{"offset":0.7375,"color":"#c8d400"},
{"offset":0.75,"color":"#000"},{"offset":0.7625,"color":"#c8d400"},{"offset":0.7875,"color":"#c8d400"},
{"offset":0.8,"color":"#000"},{"offset":0.8125,"color":"#c8d400"},{"offset":0.8375,"color":"#c8d400"},
{"offset":0.85,"color":"#000"},{"offset":0.8625,"color":"#c8d400"},{"offset":0.8875,"color":"#c8d400"},
{"offset":0.9,"color":"#000"},{"offset":0.9125,"color":"#c8d400"},{"offset":0.9375,"color":"#c8d400"},
{"offset":0.95,"color":"#000"},{"offset":0.9625,"color":"#c8d400"},{"offset":0.9875,"color":"#c8d400"},
{"offset":1,"color":"#000"}]}},
                {"test": "datum.depth == '20-30 cm depth' && datum.time == '22 days Cu'", "value": {"gradient": "linear", "x1": 0, "y1": 0, "x2": 1.1557, "y2": 0.2354, "stops": [
{"offset":0,"color":"#000"},{"offset":0.0078,"color":"#c8d400"},{"offset":0.0234,"color":"#c8d400"},
{"offset":0.0313,"color":"#000"},{"offset":0.0391,"color":"#c8d400"},{"offset":0.0547,"color":"#c8d400"},
{"offset":0.0625,"color":"#000"},{"offset":0.0703,"color":"#c8d400"},{"offset":0.0859,"color":"#c8d400"},
{"offset":0.0938,"color":"#000"},{"offset":0.1016,"color":"#c8d400"},{"offset":0.1172,"color":"#c8d400"},
{"offset":0.125,"color":"#000"},{"offset":0.1328,"color":"#c8d400"},{"offset":0.1484,"color":"#c8d400"},
{"offset":0.1563,"color":"#000"},{"offset":0.1641,"color":"#c8d400"},{"offset":0.1797,"color":"#c8d400"},
{"offset":0.1875,"color":"#000"},{"offset":0.1953,"color":"#c8d400"},{"offset":0.2109,"color":"#c8d400"},
{"offset":0.2188,"color":"#000"},{"offset":0.2266,"color":"#c8d400"},{"offset":0.2422,"color":"#c8d400"},
{"offset":0.25,"color":"#000"},{"offset":0.2578,"color":"#c8d400"},{"offset":0.2734,"color":"#c8d400"},
{"offset":0.2813,"color":"#000"},{"offset":0.2891,"color":"#c8d400"},{"offset":0.3047,"color":"#c8d400"},
{"offset":0.3125,"color":"#000"},{"offset":0.3203,"color":"#c8d400"},{"offset":0.3359,"color":"#c8d400"},
{"offset":0.3438,"color":"#000"},{"offset":0.3516,"color":"#c8d400"},{"offset":0.3672,"color":"#c8d400"},
{"offset":0.375,"color":"#000"},{"offset":0.3828,"color":"#c8d400"},{"offset":0.3984,"color":"#c8d400"},
{"offset":0.4063,"color":"#000"},{"offset":0.4141,"color":"#c8d400"},{"offset":0.4297,"color":"#c8d400"},
{"offset":0.4375,"color":"#000"},{"offset":0.4453,"color":"#c8d400"},{"offset":0.4609,"color":"#c8d400"},
{"offset":0.4688,"color":"#000"},{"offset":0.4766,"color":"#c8d400"},{"offset":0.4922,"color":"#c8d400"},
{"offset":0.5,"color":"#000"},{"offset":0.5078,"color":"#c8d400"},{"offset":0.5234,"color":"#c8d400"},
{"offset":0.5313,"color":"#000"},{"offset":0.5391,"color":"#c8d400"},{"offset":0.5547,"color":"#c8d400"},
{"offset":0.5625,"color":"#000"},{"offset":0.5703,"color":"#c8d400"},{"offset":0.5859,"color":"#c8d400"},
{"offset":0.5938,"color":"#000"},{"offset":0.6016,"color":"#c8d400"},{"offset":0.6172,"color":"#c8d400"},
{"offset":0.625,"color":"#000"},{"offset":0.6328,"color":"#c8d400"},{"offset":0.6484,"color":"#c8d400"},
{"offset":0.6563,"color":"#000"},{"offset":0.6641,"color":"#c8d400"},{"offset":0.6797,"color":"#c8d400"},
{"offset":0.6875,"color":"#000"},{"offset":0.6953,"color":"#c8d400"},{"offset":0.7109,"color":"#c8d400"},
{"offset":0.7188,"color":"#000"},{"offset":0.7266,"color":"#c8d400"},{"offset":0.7422,"color":"#c8d400"},
{"offset":0.75,"color":"#000"},{"offset":0.7578,"color":"#c8d400"},{"offset":0.7734,"color":"#c8d400"},
{"offset":0.7813,"color":"#000"},{"offset":0.7891,"color":"#c8d400"},{"offset":0.8047,"color":"#c8d400"},
{"offset":0.8125,"color":"#000"},{"offset":0.8203,"color":"#c8d400"},{"offset":0.8359,"color":"#c8d400"},
{"offset":0.8438,"color":"#000"},{"offset":0.8516,"color":"#c8d400"},{"offset":0.8672,"color":"#c8d400"},
{"offset":0.875,"color":"#000"},{"offset":0.8828,"color":"#c8d400"},{"offset":0.8984,"color":"#c8d400"},
{"offset":0.9063,"color":"#000"},{"offset":0.9141,"color":"#c8d400"},{"offset":0.9297,"color":"#c8d400"},
{"offset":0.9375,"color":"#000"},{"offset":0.9453,"color":"#c8d400"},{"offset":0.9609,"color":"#c8d400"},
{"offset":0.9688,"color":"#000"},{"offset":0.9766,"color":"#c8d400"},{"offset":0.9922,"color":"#c8d400"},
{"offset":1,"color":"#000"}]}},
                {"test": "datum.depth == '20-30 cm depth' && datum.time == '116 days Cu'", "value": {"gradient": "linear", "x1": 0, "y1": 0, "x2": 1.0858, "y2": 0.104, "stops": [
{"offset":0,"color":"#000"},{"offset":0.0039,"color":"#c8d400"},{"offset":0.0117,"color":"#c8d400"},
{"offset":0.0156,"color":"#000"},{"offset":0.0195,"color":"#c8d400"},{"offset":0.0273,"color":"#c8d400"},
{"offset":0.0313,"color":"#000"},{"offset":0.0352,"color":"#c8d400"},{"offset":0.043,"color":"#c8d400"},
{"offset":0.0469,"color":"#000"},{"offset":0.0508,"color":"#c8d400"},{"offset":0.0586,"color":"#c8d400"},
{"offset":0.0625,"color":"#000"},{"offset":0.0664,"color":"#c8d400"},{"offset":0.0742,"color":"#c8d400"},
{"offset":0.0781,"color":"#000"},{"offset":0.082,"color":"#c8d400"},{"offset":0.0898,"color":"#c8d400"},
{"offset":0.0938,"color":"#000"},{"offset":0.0977,"color":"#c8d400"},{"offset":0.1055,"color":"#c8d400"},
{"offset":0.1094,"color":"#000"},{"offset":0.1133,"color":"#c8d400"},{"offset":0.1211,"color":"#c8d400"},
{"offset":0.125,"color":"#000"},{"offset":0.1289,"color":"#c8d400"},{"offset":0.1367,"color":"#c8d400"},
{"offset":0.1406,"color":"#000"},{"offset":0.1445,"color":"#c8d400"},{"offset":0.1523,"color":"#c8d400"},
{"offset":0.1563,"color":"#000"},{"offset":0.1602,"color":"#c8d400"},{"offset":0.168,"color":"#c8d400"},
{"offset":0.1719,"color":"#000"},{"offset":0.1758,"color":"#c8d400"},{"offset":0.1836,"color":"#c8d400"},
{"offset":0.1875,"color":"#000"},{"offset":0.1914,"color":"#c8d400"},{"offset":0.1992,"color":"#c8d400"},
{"offset":0.2031,"color":"#000"},{"offset":0.207,"color":"#c8d400"},{"offset":0.2148,"color":"#c8d400"},
{"offset":0.2188,"color":"#000"},{"offset":0.2227,"color":"#c8d400"},{"offset":0.2305,"color":"#c8d400"},
{"offset":0.2344,"color":"#000"},{"offset":0.2383,"color":"#c8d400"},{"offset":0.2461,"color":"#c8d400"},
{"offset":0.25,"color":"#000"},{"offset":0.2539,"color":"#c8d400"},{"offset":0.2617,"color":"#c8d400"},
{"offset":0.2656,"color":"#000"},{"offset":0.2695,"color":"#c8d400"},{"offset":0.2773,"color":"#c8d400"},
{"offset":0.2813,"color":"#000"},{"offset":0.2852,"color":"#c8d400"},{"offset":0.293,"color":"#c8d400"},
{"offset":0.2969,"color":"#000"},{"offset":0.3008,"color":"#c8d400"},{"offset":0.3086,"color":"#c8d400"},
{"offset":0.3125,"color":"#000"},{"offset":0.3164,"color":"#c8d400"},{"offset":0.3242,"color":"#c8d400"},
{"offset":0.3281,"color":"#000"},{"offset":0.332,"color":"#c8d400"},{"offset":0.3398,"color":"#c8d400"},
{"offset":0.3438,"color":"#000"},{"offset":0.3477,"color":"#c8d400"},{"offset":0.3555,"color":"#c8d400"},
{"offset":0.3594,"color":"#000"},{"offset":0.3633,"color":"#c8d400"},{"offset":0.3711,"color":"#c8d400"},
{"offset":0.375,"color":"#000"},{"offset":0.3789,"color":"#c8d400"},{"offset":0.3867,"color":"#c8d400"},
{"offset":0.3906,"color":"#000"},{"offset":0.3945,"color":"#c8d400"},{"offset":0.4023,"color":"#c8d400"},
{"offset":0.4063,"color":"#000"},{"offset":0.4102,"color":"#c8d400"},{"offset":0.418,"color":"#c8d400"},
{"offset":0.4219,"color":"#000"},{"offset":0.4258,"color":"#c8d400"},{"offset":0.4336,"color":"#c8d400"},
{"offset":0.4375,"color":"#000"},{"offset":0.4414,"color":"#c8d400"},{"offset":0.4492,"color":"#c8d400"},
{"offset":0.4531,"color":"#000"},{"offset":0.457,"color":"#c8d400"},{"offset":0.4648,"color":"#c8d400"},
{"offset":0.4688,"color":"#000"},{"offset":0.4727,"color":"#c8d400"},{"offset":0.4805,"color":"#c8d400"},
{"offset":0.4844,"color":"#000"},{"offset":0.4883,"color":"#c8d400"},{"offset":0.4961,"color":"#c8d400"},
{"offset":0.5,"color":"#000"},{"offset":0.5039,"color":"#c8d400"},{"offset":0.5117,"color":"#c8d400"},
{"offset":0.5156,"color":"#000"},{"offset":0.5195,"color":"#c8d400"},{"offset":0.5273,"color":"#c8d400"},
{"offset":0.5313,"color":"#000"},{"offset":0.5352,"color":"#c8d400"},{"offset":0.543,"color":"#c8d400"},
{"offset":0.5469,"color":"#000"},{"offset":0.5508,"color":"#c8d400"},{"offset":0.5586,"color":"#c8d400"},
{"offset":0.5625,"color":"#000"},{"offset":0.5664,"color":"#c8d400"},{"offset":0.5742,"color":"#c8d400"},
{"offset":0.5781,"color":"#000"},{"offset":0.582,"color":"#c8d400"},{"offset":0.5898,"color":"#c8d400"},
{"offset":0.5938,"color":"#000"},{"offset":0.5977,"color":"#c8d400"},{"offset":0.6055,"color":"#c8d400"},
{"offset":0.6094,"color":"#000"},{"offset":0.6133,"color":"#c8d400"},{"offset":0.6211,"color":"#c8d400"},
{"offset":0.625,"color":"#000"},{"offset":0.6289,"color":"#c8d400"},{"offset":0.6367,"color":"#c8d400"},
{"offset":0.6406,"color":"#000"},{"offset":0.6445,"color":"#c8d400"},{"offset":0.6523,"color":"#c8d400"},
{"offset":0.6563,"color":"#000"},{"offset":0.6602,"color":"#c8d400"},{"offset":0.668,"color":"#c8d400"},
{"offset":0.6719,"color":"#000"},{"offset":0.6758,"color":"#c8d400"},{"offset":0.6836,"color":"#c8d400"},
{"offset":0.6875,"color":"#000"},{"offset":0.6914,"color":"#c8d400"},{"offset":0.6992,"color":"#c8d400"},
{"offset":0.7031,"color":"#000"},{"offset":0.707,"color":"#c8d400"},{"offset":0.7148,"color":"#c8d400"},
{"offset":0.7188,"color":"#000"},{"offset":0.7227,"color":"#c8d400"},{"offset":0.7305,"color":"#c8d400"},
{"offset":0.7344,"color":"#000"},{"offset":0.7383,"color":"#c8d400"},{"offset":0.7461,"color":"#c8d400"},
{"offset":0.75,"color":"#000"},{"offset":0.7539,"color":"#c8d400"},{"offset":0.7617,"color":"#c8d400"},
{"offset":0.7656,"color":"#000"},{"offset":0.7695,"color":"#c8d400"},{"offset":0.7773,"color":"#c8d400"},
{"offset":0.7813,"color":"#000"},{"offset":0.7852,"color":"#c8d400"},{"offset":0.793,"color":"#c8d400"},
{"offset":0.7969,"color":"#000"},{"offset":0.8008,"color":"#c8d400"},{"offset":0.8086,"color":"#c8d400"},
{"offset":0.8125,"color":"#000"},{"offset":0.8164,"color":"#c8d400"},{"offset":0.8242,"color":"#c8d400"},
{"offset":0.8281,"color":"#000"},{"offset":0.832,"color":"#c8d400"},{"offset":0.8398,"color":"#c8d400"},
{"offset":0.8438,"color":"#000"},{"offset":0.8477,"color":"#c8d400"},{"offset":0.8555,"color":"#c8d400"},
{"offset":0.8594,"color":"#000"},{"offset":0.8633,"color":"#c8d400"},{"offset":0.8711,"color":"#c8d400"},
{"offset":0.875,"color":"#000"},{"offset":0.8789,"color":"#c8d400"},{"offset":0.8867,"color":"#c8d400"},
{"offset":0.8906,"color":"#000"},{"offset":0.8945,"color":"#c8d400"},{"offset":0.9023,"color":"#c8d400"},
{"offset":0.9063,"color":"#000"},{"offset":0.9102,"color":"#c8d400"},{"offset":0.918,"color":"#c8d400"},
{"offset":0.9219,"color":"#000"},{"offset":0.9258,"color":"#c8d400"},{"offset":0.9336,"color":"#c8d400"},
{"offset":0.9375,"color":"#000"},{"offset":0.9414,"color":"#c8d400"},{"offset":0.9492,"color":"#c8d400"},
{"offset":0.9531,"color":"#000"},{"offset":0.957,"color":"#c8d400"},{"offset":0.9648,"color":"#c8d400"},
{"offset":0.9688,"color":"#000"},{"offset":0.9727,"color":"#c8d400"},{"offset":0.9805,"color":"#c8d400"},
{"offset":0.9844,"color":"#000"},{"offset":0.9883,"color":"#c8d400"},{"offset":0.9961,"color":"#c8d400"},
{"offset":1,"color":"#000"}]}}
              ],
              "field": "depth", "type": "nominal",
              "scale": {"domain": ["30-40 cm depth", "20-30 cm depth", "10-20 cm depth", "0-10 cm depth"], "range": ["#7f0000", "#b4c000", "#4a0303", "#ec7400"]},
              "legend": {"orient": "none", "legendX": 196.5, "legendY": 6.5, "title": null, "padding": 14, "symbolType": "M-4,-0.9H4V0.9H-4Z", "symbolSize": 106, "symbolOffset": 11.6, "labelOffset": 22, "rowPadding": 4.3, "symbolStrokeColor": "#222", "symbolStrokeWidth": 1, "strokeColor": "#222", "fillColor": "#fff", "labelFontSize": 18}
            }
          }
        },
        {
          "transform": [{"filter": "isValid(datum.hi)"}],
          "mark": {"type": "rule", "color": "#333", "strokeWidth": 1.3},
          "encoding": {
            "y": {"field": "time", "type": "nominal", "sort": ["Before Cu", "22 days Cu", "116 days Cu"]},
            "yOffset": {"field": "depth", "type": "nominal", "sort": ["0-10 cm depth", "10-20 cm depth", "20-30 cm depth", "30-40 cm depth"]},
            "x": {"field": "value", "type": "quantitative"},
            "x2": {"field": "hi"}
          }
        },
        {
          "transform": [{"filter": "isValid(datum.hi)"}],
          "mark": {"type": "tick", "color": "#333", "thickness": 1.3, "size": 9, "orient": "vertical"},
          "encoding": {
            "y": {"field": "time", "type": "nominal", "sort": ["Before Cu", "22 days Cu", "116 days Cu"]},
            "yOffset": {"field": "depth", "type": "nominal", "sort": ["0-10 cm depth", "10-20 cm depth", "20-30 cm depth", "30-40 cm depth"]},
            "x": {"field": "hi", "type": "quantitative"}
          }
        }
      ]
    }
  ],
  "config": {
    "font": "Liberation Sans",
    "view": {"stroke": "#555", "strokeWidth": 1.2},
    "axis": {"labelFontSize": 18, "titleFontSize": 18, "titleFontWeight": "normal", "labelColor": "#111", "titleColor": "#111", "tickColor": "#222", "tickWidth": 1.2, "grid": false, "labelFlush": false, "labelOverlap": false, "labelFont": "Liberation Sans", "titleFont": "Liberation Sans"},
    "legend": {"labelFont": "Liberation Sans", "labelColor": "#111"}
  }
}
